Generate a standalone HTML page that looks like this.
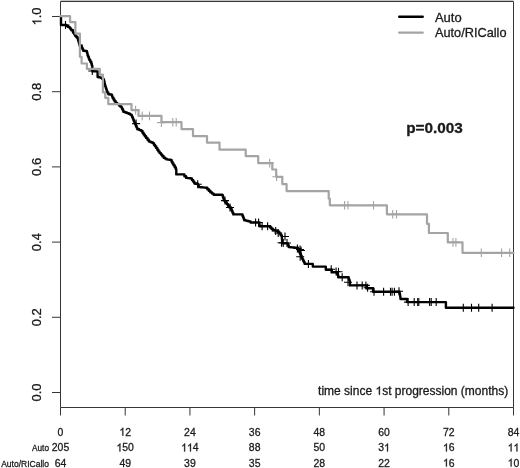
<!DOCTYPE html>
<html><head><meta charset="utf-8"><style>
html,body{margin:0;padding:0;background:#fff;width:520px;height:468px;overflow:hidden}
svg{display:block}
text{font-family:"Liberation Sans", sans-serif;fill:#1a1a1a;stroke:#1a1a1a;stroke-width:0.3px;font-kerning:none}
g path.g1,g>path{fill:#1a1a1a;stroke:#1a1a1a;stroke-width:0.3px;vector-effect:non-scaling-stroke}
svg{will-change:transform}
</style></head><body>
<svg width="520" height="468" viewBox="0 0 520 468">
<rect width="520" height="468" fill="#fff"/>
<path d="M60.5,0.5H513.5" stroke="#c4c4c4" stroke-width="1"/>
<path d="M60.5,1.5H513.5V407.5H60.5Z" fill="none" stroke="#363636" stroke-width="1"/>
<path d="M52,392.50H60.5M52,317.30H60.5M52,242.10H60.5M52,166.90H60.5M52,91.70H60.5M52,16.50H60.5M60.50,407.5V415.5M125.21,407.5V415.5M189.93,407.5V415.5M254.64,407.5V415.5M319.36,407.5V415.5M384.07,407.5V415.5M448.79,407.5V415.5M513.50,407.5V415.5" fill="none" stroke="#363636" stroke-width="1"/>
<g transform="translate(41.30,392.50) rotate(-90)" font-size="13"><text text-anchor="middle">0.0</text></g><g transform="translate(41.30,317.30) rotate(-90)" font-size="13"><text text-anchor="middle">0.2</text></g><g transform="translate(41.30,242.10) rotate(-90)" font-size="13"><text text-anchor="middle">0.4</text></g><g transform="translate(41.30,166.90) rotate(-90)" font-size="13"><text text-anchor="middle">0.6</text></g><g transform="translate(41.30,91.70) rotate(-90)" font-size="13"><text text-anchor="middle">0.8</text></g><g transform="translate(41.30,16.50) rotate(-90)" font-size="13"><text text-anchor="middle"> .0</text><path transform="translate(-9.036,0) scale(0.00635,-0.00610)" d="M763,0L583,0L583,1147Q518,1085 412.5,1023Q307,961 223,930L223,1104Q374,1175 484.5,1273.5Q595,1372 647,1466L763,1466Z"/></g>
<g transform="translate(60.50,435.70) scale(0.910,1)" font-size="11.5"><text text-anchor="middle">0</text></g><g transform="translate(60.50,451.40) scale(0.910,1)" font-size="11.5"><text text-anchor="middle">205</text></g><g transform="translate(60.50,466.60) scale(0.910,1)" font-size="11.5"><text text-anchor="middle">64</text></g><g transform="translate(125.21,435.70) scale(0.910,1)" font-size="11.5"><text text-anchor="middle"> 2</text><path transform="translate(-6.396,0) scale(0.00562,-0.00540)" d="M763,0L583,0L583,1147Q518,1085 412.5,1023Q307,961 223,930L223,1104Q374,1175 484.5,1273.5Q595,1372 647,1466L763,1466Z"/></g><g transform="translate(125.21,451.40) scale(0.910,1)" font-size="11.5"><text text-anchor="middle"> 50</text><path transform="translate(-9.594,0) scale(0.00562,-0.00540)" d="M763,0L583,0L583,1147Q518,1085 412.5,1023Q307,961 223,930L223,1104Q374,1175 484.5,1273.5Q595,1372 647,1466L763,1466Z"/></g><g transform="translate(125.21,466.60) scale(0.910,1)" font-size="11.5"><text text-anchor="middle">49</text></g><g transform="translate(189.93,435.70) scale(0.910,1)" font-size="11.5"><text text-anchor="middle">24</text></g><g transform="translate(189.93,451.40) scale(0.910,1)" font-size="11.5"><text text-anchor="middle">  4</text><path transform="translate(-9.594,0) scale(0.00562,-0.00540)" d="M763,0L583,0L583,1147Q518,1085 412.5,1023Q307,961 223,930L223,1104Q374,1175 484.5,1273.5Q595,1372 647,1466L763,1466Z"/><path transform="translate(-3.198,0) scale(0.00562,-0.00540)" d="M763,0L583,0L583,1147Q518,1085 412.5,1023Q307,961 223,930L223,1104Q374,1175 484.5,1273.5Q595,1372 647,1466L763,1466Z"/></g><g transform="translate(189.93,466.60) scale(0.910,1)" font-size="11.5"><text text-anchor="middle">39</text></g><g transform="translate(254.64,435.70) scale(0.910,1)" font-size="11.5"><text text-anchor="middle">36</text></g><g transform="translate(254.64,451.40) scale(0.910,1)" font-size="11.5"><text text-anchor="middle">88</text></g><g transform="translate(254.64,466.60) scale(0.910,1)" font-size="11.5"><text text-anchor="middle">35</text></g><g transform="translate(319.36,435.70) scale(0.910,1)" font-size="11.5"><text text-anchor="middle">48</text></g><g transform="translate(319.36,451.40) scale(0.910,1)" font-size="11.5"><text text-anchor="middle">50</text></g><g transform="translate(319.36,466.60) scale(0.910,1)" font-size="11.5"><text text-anchor="middle">28</text></g><g transform="translate(384.07,435.70) scale(0.910,1)" font-size="11.5"><text text-anchor="middle">60</text></g><g transform="translate(384.07,451.40) scale(0.910,1)" font-size="11.5"><text text-anchor="middle">3 </text><path transform="translate(0.000,0) scale(0.00562,-0.00540)" d="M763,0L583,0L583,1147Q518,1085 412.5,1023Q307,961 223,930L223,1104Q374,1175 484.5,1273.5Q595,1372 647,1466L763,1466Z"/></g><g transform="translate(384.07,466.60) scale(0.910,1)" font-size="11.5"><text text-anchor="middle">22</text></g><g transform="translate(448.79,435.70) scale(0.910,1)" font-size="11.5"><text text-anchor="middle">72</text></g><g transform="translate(448.79,451.40) scale(0.910,1)" font-size="11.5"><text text-anchor="middle"> 6</text><path transform="translate(-6.396,0) scale(0.00562,-0.00540)" d="M763,0L583,0L583,1147Q518,1085 412.5,1023Q307,961 223,930L223,1104Q374,1175 484.5,1273.5Q595,1372 647,1466L763,1466Z"/></g><g transform="translate(448.79,466.60) scale(0.910,1)" font-size="11.5"><text text-anchor="middle"> 6</text><path transform="translate(-6.396,0) scale(0.00562,-0.00540)" d="M763,0L583,0L583,1147Q518,1085 412.5,1023Q307,961 223,930L223,1104Q374,1175 484.5,1273.5Q595,1372 647,1466L763,1466Z"/></g><g transform="translate(513.50,435.70) scale(0.910,1)" font-size="11.5"><text text-anchor="middle">84</text></g><g transform="translate(513.50,451.40) scale(0.910,1)" font-size="11.5"><text text-anchor="middle">  </text><path transform="translate(-6.396,0) scale(0.00562,-0.00540)" d="M763,0L583,0L583,1147Q518,1085 412.5,1023Q307,961 223,930L223,1104Q374,1175 484.5,1273.5Q595,1372 647,1466L763,1466Z"/><path transform="translate(0.000,0) scale(0.00562,-0.00540)" d="M763,0L583,0L583,1147Q518,1085 412.5,1023Q307,961 223,930L223,1104Q374,1175 484.5,1273.5Q595,1372 647,1466L763,1466Z"/></g><g transform="translate(513.50,466.60) scale(0.910,1)" font-size="11.5"><text text-anchor="middle"> 0</text><path transform="translate(-6.396,0) scale(0.00562,-0.00540)" d="M763,0L583,0L583,1147Q518,1085 412.5,1023Q307,961 223,930L223,1104Q374,1175 484.5,1273.5Q595,1372 647,1466L763,1466Z"/></g>
<text x="49" y="451.3" font-size="9.6" text-anchor="end" textLength="17" lengthAdjust="spacingAndGlyphs">Auto</text>
<text x="49" y="466.8" font-size="9.6" text-anchor="end" textLength="47.8" lengthAdjust="spacingAndGlyphs">Auto/RICallo</text>
<path d="M61.0,17.0L61.0,25.0L65.0,25.0L66.5,25.0L66.5,26.0L68.0,26.0L68.0,26.9L69.5,26.9L69.5,27.8L70.4,27.8L70.4,29.0L71.3,29.0L71.3,30.3L73.0,30.3L73.0,32.6L74.2,32.6L74.2,34.3L75.3,34.3L75.3,36.0L76.4,36.0L76.4,37.3L77.6,37.3L77.6,38.6L78.0,38.6L78.0,40.0L78.4,40.0L78.4,41.4L79.0,41.4L79.0,43.4L79.6,43.4L79.6,45.4L81.7,45.4L81.7,47.8L82.5,47.8L82.5,49.2L83.2,49.2L83.2,50.7L85.0,50.7L85.0,51.0L86.7,51.0L86.7,51.4L87.1,51.4L87.1,53.3L87.5,53.3L87.5,55.3L88.1,55.3L88.1,56.8L88.8,56.8L88.8,58.4L89.4,58.4L89.4,59.9L90.3,59.9L90.3,61.8L91.3,61.8L91.3,63.8L91.8,63.8L91.8,65.6L92.3,65.6L92.3,67.4L92.4,67.4L92.4,69.4L92.5,69.4L92.5,71.4L97.6,71.4L97.6,77.0L99.1,77.0L99.1,77.4L100.6,77.4L100.6,77.8L102.2,77.8L102.2,79.0L103.7,79.0L103.7,80.1L104.1,80.1L104.1,81.6L104.5,81.6L104.5,83.2L104.8,83.2L104.8,84.7L105.2,84.7L105.2,86.2L105.7,86.2L105.7,87.8L106.2,87.8L106.2,89.3L106.7,89.3L106.7,90.9L107.2,90.9L107.2,92.4L108.3,92.4L108.3,94.3L109.8,94.3L109.8,94.5L111.4,94.5L111.4,94.7L112.0,94.7L112.0,96.2L112.5,96.2L112.5,97.8L113.5,97.8L113.5,99.5L114.5,99.5L114.5,101.2L115.7,101.2L115.7,102.6L116.8,102.6L116.8,103.9L119.0,103.9L119.0,105.4L120.2,105.4L120.2,106.4L121.4,106.4L121.4,107.4L122.1,107.4L122.1,108.9L122.8,108.9L122.8,110.4L123.5,110.4L123.5,111.9L125.2,111.9L125.2,112.5L126.9,112.5L126.9,113.1L128.6,113.1L128.6,113.7L130.1,113.7L130.1,114.6L131.5,114.6L131.5,115.4L132.1,115.4L132.1,116.9L132.7,116.9L132.7,118.3L133.2,118.3L133.2,119.8L133.8,119.8L133.8,121.2L134.5,121.2L134.5,122.8L135.2,122.8L135.2,124.4L135.9,124.4L135.9,126.0L136.6,126.0L136.6,127.6L137.3,127.6L137.3,129.2L139.3,129.2L139.3,130.1L141.3,130.1L141.3,131.0L142.5,131.0L142.5,132.7L143.6,132.7L143.6,134.5L144.8,134.5L144.8,136.2L146.1,136.2L146.1,137.9L147.5,137.9L147.5,139.7L148.8,139.7L148.8,141.4L150.2,141.4L150.2,142.0L151.5,142.0L151.5,142.5L152.9,142.5L152.9,143.1L153.9,143.1L153.9,144.7L155.0,144.7L155.0,146.2L156.2,146.2L156.2,147.9L157.3,147.9L157.3,149.7L158.4,149.7L158.4,151.4L159.6,151.4L159.6,153.1L161.0,153.1L161.0,154.6L162.3,154.6L162.3,156.2L163.7,156.2L163.7,157.7L165.1,157.7L165.1,158.6L166.5,158.6L166.5,159.4L167.9,159.4L167.9,159.6L169.2,159.6L169.2,159.8L170.6,159.8L170.6,160.0L171.6,160.0L171.6,161.7L172.5,161.7L172.5,163.5L173.5,163.5L173.5,165.2L174.7,165.2L174.7,167.2L175.8,167.2L175.8,169.2L176.3,169.2L176.3,174.4L182.7,174.4L184.4,174.4L184.4,176.2L186.1,176.2L186.1,177.9L187.7,177.9L187.7,178.1L189.2,178.1L189.2,178.2L190.8,178.2L190.8,178.4L191.9,178.4L191.9,180.0L193.1,180.0L193.1,181.5L194.2,181.5L194.2,183.1L195.9,183.1L195.9,183.7L197.7,183.7L197.7,184.2L198.2,184.2L198.2,185.7L198.8,185.7L198.8,187.1L200.5,187.1L200.5,187.2L202.2,187.2L202.2,187.4L204.0,187.4L204.0,187.6L205.7,187.6L205.7,187.7L207.3,187.7L207.3,189.3L208.8,189.3L208.8,190.8L210.4,190.8L210.4,192.4L212.1,192.4L212.1,193.6L213.7,193.6L213.7,194.8L222.3,194.8L222.3,195.2L222.9,195.2L222.9,197.0L223.4,197.0L223.4,198.8L224.0,198.8L224.0,200.6L225.3,200.6L225.3,202.3L226.7,202.3L226.7,204.1L228.0,204.1L228.0,205.8L229.5,205.8L229.5,207.5L231.0,207.5L231.0,209.2L231.8,209.2L231.8,210.9L232.5,210.9L232.5,212.7L233.3,212.7L233.3,214.4L241.9,214.4L242.5,214.4L242.5,215.9L243.1,215.9L243.1,217.3L243.6,217.3L243.6,218.8L244.2,218.8L244.2,220.2L245.7,220.2L245.7,220.6L247.3,220.6L247.3,221.0L248.8,221.0L248.8,221.4L250.6,221.4L250.6,222.5L259.5,222.5L259.5,226.2L268.7,226.2L270.1,226.2L270.1,227.5L271.4,227.5L271.4,228.7L272.8,228.7L272.8,230.0L274.6,230.0L274.6,230.4L276.3,230.4L276.3,230.7L277.9,230.7L277.9,232.2L279.5,232.2L279.5,233.6L280.6,233.6L280.6,235.3L281.8,235.3L281.8,237.1L281.9,237.1L281.9,238.7L282.1,238.7L282.1,240.2L282.2,240.2L282.2,241.8L282.3,241.8L282.3,243.4L287.5,243.4L288.1,243.4L288.1,245.2L288.7,245.2L288.7,247.1L290.2,247.1L290.2,247.2L291.7,247.2L291.7,247.4L293.2,247.4L293.2,247.5L294.7,247.5L294.7,247.7L296.2,247.7L296.2,247.8L297.9,247.8L297.9,249.8L298.7,249.8L298.7,251.2L299.4,251.2L299.4,252.5L300.2,252.5L300.2,253.9L300.9,253.9L300.9,255.6L301.6,255.6L301.6,257.4L302.3,257.4L302.3,259.1L303.1,259.1L303.1,260.7L303.9,260.7L303.9,262.3L304.7,262.3L304.7,263.9L312.8,263.9L312.8,266.6L325.8,266.6L325.8,269.7L331.8,269.7L331.8,272.3L333.3,272.3L333.3,272.4L334.9,272.4L334.9,272.4L336.4,272.4L336.4,272.5L337.0,272.5L337.0,273.8L337.6,273.8L337.6,275.1L338.2,275.1L338.2,277.3L346.8,277.3L348.7,277.3L348.7,278.9L349.2,278.9L349.2,280.1L349.7,280.1L349.7,281.4L349.9,281.4L349.9,283.4L350.0,283.4L350.0,285.4L366.8,285.4L366.8,288.2L373.1,288.2L373.1,291.7L399.4,291.7L399.6,291.7L399.6,293.2L399.8,293.2L399.8,294.6L400.1,294.6L400.1,296.1L400.3,296.1L400.3,297.5L400.5,297.5L400.5,299.0L407.1,299.0L407.1,299.2L407.1,302.1L445.9,302.1L445.9,307.8L513.5,307.8" fill="none" stroke="#000" stroke-width="2.4" stroke-linejoin="round" stroke-linecap="round"/>
<path d="M65.5,21.0v8.0M61.5,25.0h8.0" stroke="#000" stroke-width="1.1" fill="none"/><path d="M92.3,67.0v8.0M88.3,71.0h8.0" stroke="#000" stroke-width="1.1" fill="none"/><path d="M136.1,119.6v8.0M132.1,123.6h8.0" stroke="#000" stroke-width="1.1" fill="none"/><path d="M197.7,180.2v8.0M193.7,184.2h8.0" stroke="#000" stroke-width="1.1" fill="none"/><path d="M225.0,196.6v8.0M221.0,200.6h8.0" stroke="#000" stroke-width="1.1" fill="none"/><path d="M230.0,203.5v8.0M226.0,207.5h8.0" stroke="#000" stroke-width="1.1" fill="none"/><path d="M255.6,218.5v8.0M251.6,222.5h8.0" stroke="#000" stroke-width="1.1" fill="none"/><path d="M258.6,218.5v8.0M254.6,222.5h8.0" stroke="#000" stroke-width="1.1" fill="none"/><path d="M262.1,222.2v8.0M258.1,226.2h8.0" stroke="#000" stroke-width="1.1" fill="none"/><path d="M267.6,222.2v8.0M263.6,226.2h8.0" stroke="#000" stroke-width="1.1" fill="none"/><path d="M275.7,227.0v8.0M271.7,231.0h8.0" stroke="#000" stroke-width="1.1" fill="none"/><path d="M278.2,229.0v8.0M274.2,233.0h8.0" stroke="#000" stroke-width="1.1" fill="none"/><path d="M281.5,238.7v8.0M277.5,242.7h8.0" stroke="#000" stroke-width="1.1" fill="none"/><path d="M283.2,239.0v8.0M279.2,243.0h8.0" stroke="#000" stroke-width="1.1" fill="none"/><path d="M287.0,239.0v8.0M283.0,243.0h8.0" stroke="#000" stroke-width="1.1" fill="none"/><path d="M285.0,232.5v8.0M281.0,236.5h8.0" stroke="#000" stroke-width="1.1" fill="none"/><path d="M297.4,244.5v8.0M293.4,248.5h8.0" stroke="#000" stroke-width="1.1" fill="none"/><path d="M301.0,246.5v8.0M297.0,250.5h8.0" stroke="#000" stroke-width="1.1" fill="none"/><path d="M300.2,252.7v8.0M296.2,256.7h8.0" stroke="#000" stroke-width="1.1" fill="none"/><path d="M300.0,245.5v8.0M296.0,249.5h8.0" stroke="#000" stroke-width="1.1" fill="none"/><path d="M308.4,259.9v8.0M304.4,263.9h8.0" stroke="#000" stroke-width="1.1" fill="none"/><path d="M331.2,265.3v8.0M327.2,269.3h8.0" stroke="#000" stroke-width="1.1" fill="none"/><path d="M336.1,267.5v8.0M332.1,271.5h8.0" stroke="#000" stroke-width="1.1" fill="none"/><path d="M338.5,267.8v8.0M334.5,271.8h8.0" stroke="#000" stroke-width="1.1" fill="none"/><path d="M342.2,273.3v8.0M338.2,277.3h8.0" stroke="#000" stroke-width="1.1" fill="none"/><path d="M348.0,278.2v8.0M344.0,282.2h8.0" stroke="#000" stroke-width="1.1" fill="none"/><path d="M357.0,281.4v8.0M353.0,285.4h8.0" stroke="#000" stroke-width="1.1" fill="none"/><path d="M362.2,281.4v8.0M358.2,285.4h8.0" stroke="#000" stroke-width="1.1" fill="none"/><path d="M365.9,281.4v8.0M361.9,285.4h8.0" stroke="#000" stroke-width="1.1" fill="none"/><path d="M367.6,283.8v8.0M363.6,287.8h8.0" stroke="#000" stroke-width="1.1" fill="none"/><path d="M374.0,287.7v8.0M370.0,291.7h8.0" stroke="#000" stroke-width="1.1" fill="none"/><path d="M383.6,287.7v8.0M379.6,291.7h8.0" stroke="#000" stroke-width="1.1" fill="none"/><path d="M390.5,287.7v8.0M386.5,291.7h8.0" stroke="#000" stroke-width="1.1" fill="none"/><path d="M392.1,287.7v8.0M388.1,291.7h8.0" stroke="#000" stroke-width="1.1" fill="none"/><path d="M394.4,287.7v8.0M390.4,291.7h8.0" stroke="#000" stroke-width="1.1" fill="none"/><path d="M399.0,287.2v8.0M395.0,291.2h8.0" stroke="#000" stroke-width="1.1" fill="none"/><path d="M408.1,298.1v8.0M404.1,302.1h8.0" stroke="#000" stroke-width="1.1" fill="none"/><path d="M414.2,298.1v8.0M410.2,302.1h8.0" stroke="#000" stroke-width="1.1" fill="none"/><path d="M417.7,298.1v8.0M413.7,302.1h8.0" stroke="#000" stroke-width="1.1" fill="none"/><path d="M418.8,298.1v8.0M414.8,302.1h8.0" stroke="#000" stroke-width="1.1" fill="none"/><path d="M429.6,298.1v8.0M425.6,302.1h8.0" stroke="#000" stroke-width="1.1" fill="none"/><path d="M431.2,298.1v8.0M427.2,302.1h8.0" stroke="#000" stroke-width="1.1" fill="none"/><path d="M436.2,298.1v8.0M432.2,302.1h8.0" stroke="#000" stroke-width="1.1" fill="none"/><path d="M463.3,303.8v8.0M459.3,307.8h8.0" stroke="#000" stroke-width="1.1" fill="none"/><path d="M471.5,303.8v8.0M467.5,307.8h8.0" stroke="#000" stroke-width="1.1" fill="none"/><path d="M478.7,303.8v8.0M474.7,307.8h8.0" stroke="#000" stroke-width="1.1" fill="none"/><path d="M492.1,303.8v8.0M488.1,307.8h8.0" stroke="#000" stroke-width="1.1" fill="none"/>
<path d="M60.5,16.2L70.1,16.2L70.1,22.1L75.4,22.1L75.4,33.7L79.9,33.7L79.9,56.8L81.6,56.8L81.6,63.5L86.9,63.5L86.9,68.8L99.8,68.8L99.8,74.6L102.9,74.6L102.9,92.3L105.2,92.3L105.2,97.8L108.3,97.8L108.3,104.1L131.5,104.1L131.5,110.1L138.5,110.1L138.5,115.9L161.5,115.9L161.5,122.2L181.5,122.2L181.5,129.1L193.0,129.1L193.0,136.1L207.0,136.1L207.0,142.7L219.5,142.7L219.5,149.7L245.7,149.7L245.7,156.1L258.2,156.1L258.2,163.1L272.3,163.1L272.3,169.5L276.2,169.5L276.2,176.8L282.3,176.8L282.3,184.1L286.6,184.1L286.6,191.1L328.7,191.1L328.7,198.6L329.8,198.6L329.8,205.3L386.9,205.3L386.9,214.3L427.0,214.3L427.0,223.8L428.9,223.8L428.9,233.0L447.8,233.0L447.8,242.4L462.5,242.4L462.5,252.8L513.5,252.8" fill="none" stroke="#a4a4a4" stroke-width="2.2" stroke-linejoin="round" stroke-linecap="round"/>
<path d="M135.6,105.8v8.6M131.3,110.1h8.6" stroke="#a4a4a4" stroke-width="1.1" fill="none"/><path d="M142.2,111.6v8.6M137.9,115.9h8.6" stroke="#a4a4a4" stroke-width="1.1" fill="none"/><path d="M149.5,111.6v8.6M145.2,115.9h8.6" stroke="#a4a4a4" stroke-width="1.1" fill="none"/><path d="M161.4,118.3v8.6M157.1,122.6h8.6" stroke="#a4a4a4" stroke-width="1.1" fill="none"/><path d="M172.8,117.9v8.6M168.5,122.2h8.6" stroke="#a4a4a4" stroke-width="1.1" fill="none"/><path d="M176.2,117.9v8.6M171.9,122.2h8.6" stroke="#a4a4a4" stroke-width="1.1" fill="none"/><path d="M269.7,158.8v8.6M265.4,163.1h8.6" stroke="#a4a4a4" stroke-width="1.1" fill="none"/><path d="M276.6,172.5v8.6M272.3,176.8h8.6" stroke="#a4a4a4" stroke-width="1.1" fill="none"/><path d="M344.6,201.0v8.6M340.3,205.3h8.6" stroke="#a4a4a4" stroke-width="1.1" fill="none"/><path d="M348.0,201.0v8.6M343.7,205.3h8.6" stroke="#a4a4a4" stroke-width="1.1" fill="none"/><path d="M373.5,201.0v8.6M369.2,205.3h8.6" stroke="#a4a4a4" stroke-width="1.1" fill="none"/><path d="M392.7,210.0v8.6M388.4,214.3h8.6" stroke="#a4a4a4" stroke-width="1.1" fill="none"/><path d="M396.5,210.0v8.6M392.2,214.3h8.6" stroke="#a4a4a4" stroke-width="1.1" fill="none"/><path d="M453.0,238.1v8.6M448.7,242.4h8.6" stroke="#a4a4a4" stroke-width="1.1" fill="none"/><path d="M455.9,238.1v8.6M451.6,242.4h8.6" stroke="#a4a4a4" stroke-width="1.1" fill="none"/><path d="M481.3,248.5v8.6M477.0,252.8h8.6" stroke="#a4a4a4" stroke-width="1.1" fill="none"/><path d="M501.6,248.5v8.6M497.3,252.8h8.6" stroke="#a4a4a4" stroke-width="1.1" fill="none"/><path d="M509.7,248.5v8.6M505.4,252.8h8.6" stroke="#a4a4a4" stroke-width="1.1" fill="none"/>
<path d="M399.2,16.8H422.7" stroke="#000" stroke-width="2.4" stroke-linecap="round"/>
<path d="M399.1,32.6H422.8" stroke="#a4a4a4" stroke-width="2.2" stroke-linecap="round"/>
<g font-size="13"><text x="434.9" y="21.6">Auto</text><text x="434.9" y="36.9" textLength="71.6" lengthAdjust="spacingAndGlyphs">Auto/RICallo</text></g>
<text x="406.2" y="133.1" font-size="15.3" font-weight="bold" textLength="56.6" lengthAdjust="spacingAndGlyphs">p=0.003</text>
<g transform="translate(318.1,394.7)" font-size="12"><text>time since  st progression (months)</text><path transform="translate(57.352,0) scale(0.00586,-0.00563)" d="M763,0L583,0L583,1147Q518,1085 412.5,1023Q307,961 223,930L223,1104Q374,1175 484.5,1273.5Q595,1372 647,1466L763,1466Z"/></g>
</svg>
</body></html>
